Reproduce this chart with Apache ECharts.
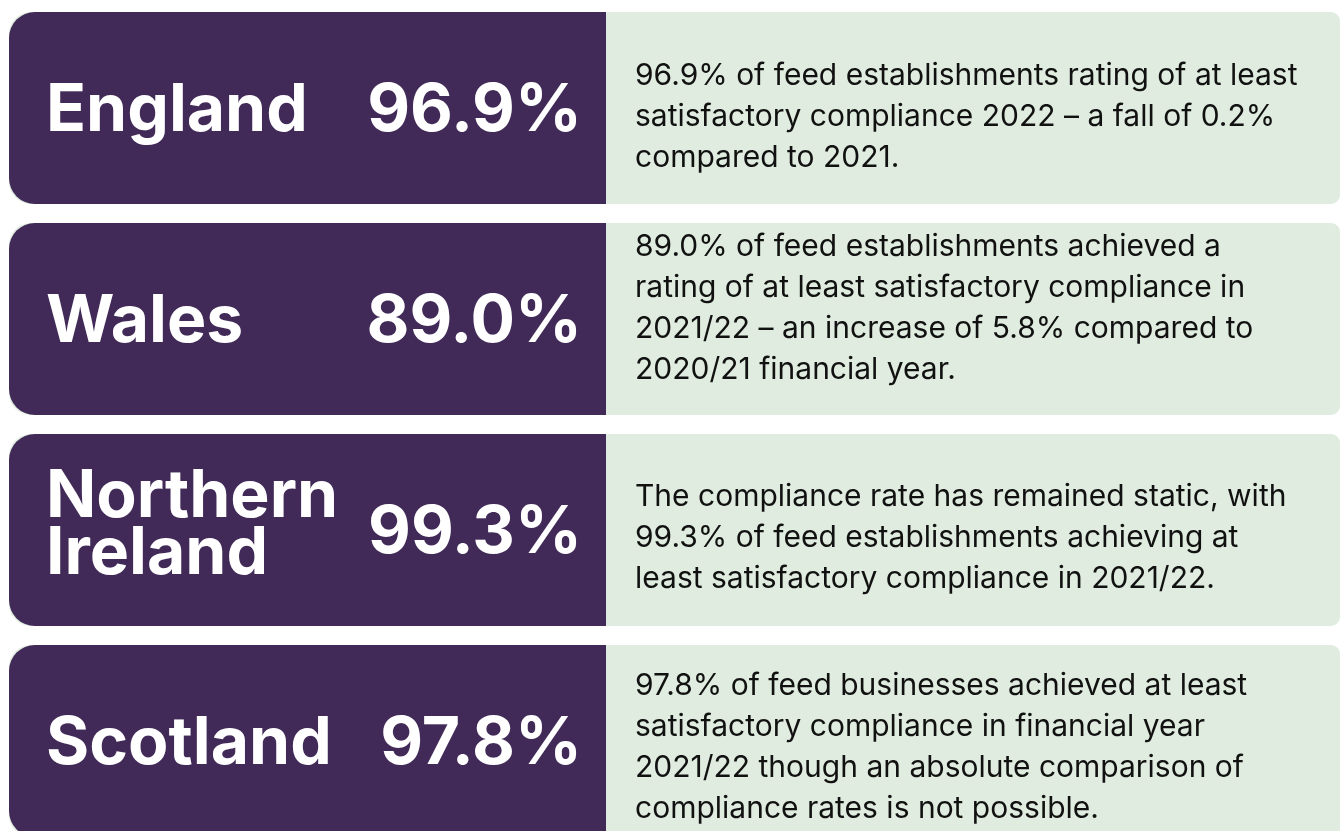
<!DOCTYPE html>
<html><head><meta charset="utf-8">
<script src="https://cdn.jsdelivr.net/npm/echarts@6/dist/echarts.min.js"></script>
<style>html,body{margin:0;padding:0;background:#fff}#c{width:1342px;height:831px}</style>
</head><body><div id="c"></div>
<script>
const regions = ['England', 'Wales', 'Northern\nIreland', 'Scotland'];
const rates = [96.9, 89.0, 99.3, 97.8];
const descriptions = [
  '96.9% of feed establishments rating of at least\nsatisfactory compliance 2022 \u2013 a fall of 0.2%\ncompared to 2021.',
  '89.0% of feed establishments achieved a\nrating of at least satisfactory compliance in\n2021/22 \u2013 an increase of 5.8% compared to\n2020/21 financial year.',
  'The compliance rate has remained static, with\n99.3% of feed establishments achieving at\nleast satisfactory compliance in 2021/22.',
  '97.8% of feed businesses achieved at least\nsatisfactory compliance in financial year\n2021/22 though an absolute comparison of\ncompliance rates is not possible.'
];

// layout / style constants
const PURPLE = '#412a57';
const GREEN = '#dfecdf';
const SPLIT_X = 606;
const GAP = 19;
const DESC_SHIFT = [9, -11, 8, 6];

const chart = echarts.init(document.getElementById('c'), null, {renderer: 'canvas'});
chart.setOption({
  backgroundColor: '#ffffff',
  animation: false,
  grid: {left: 9, right: 2, top: 2.5, bottom: 0},
  xAxis: {type: 'value', min: 0, max: 1, show: false},
  yAxis: {type: 'value', inverse: true, min: -0.5, max: 828.5 / 211 - 0.5, show: false},
  series: [{
    type: 'custom',
    clip: false,
    data: regions.map((r, i) => [0, i]),
    encode: {x: 0, y: 1},
    renderItem: function (params, api) {
      const idx = api.value(1);
      const cy = api.coord([0, idx])[1];
      const band = api.size([0, 1])[1];
      const cs = params.coordSys;
      const h = band - GAP;
      const top = cy - h / 2;
      const left = cs.x, right = cs.x + cs.width;
      const multi = regions[idx].indexOf('\n') >= 0;
      return {
        type: 'group',
        children: [
          {type: 'rect', shape: {x: left, y: top, width: right - left, height: h, r: [22, 9, 9, 22]}, style: {fill: GREEN}},
          {type: 'rect', shape: {x: left, y: top, width: SPLIT_X - left, height: h, r: [26, 0, 0, 26]}, style: {fill: PURPLE}},
          {type: 'text', style: {text: regions[idx], x: 46, y: cy + (multi ? -4 : 3), align: 'left', verticalAlign: 'middle',
            font: 'bold 66px Inter', lineHeight: 57, fill: '#ffffff'}},
          {type: 'text', style: {text: rates[idx].toFixed(1) + '%', x: 582, y: cy + 3, align: 'right', verticalAlign: 'middle',
            font: 'bold 66px Inter', fill: '#ffffff'}},
          {type: 'text', style: {text: descriptions[idx], x: 635, y: cy + DESC_SHIFT[idx], align: 'left', verticalAlign: 'middle',
            font: '30px Inter', lineHeight: 41, fill: '#111111'}}
        ]
      };
    }
  }]
});
</script>
</body></html>
